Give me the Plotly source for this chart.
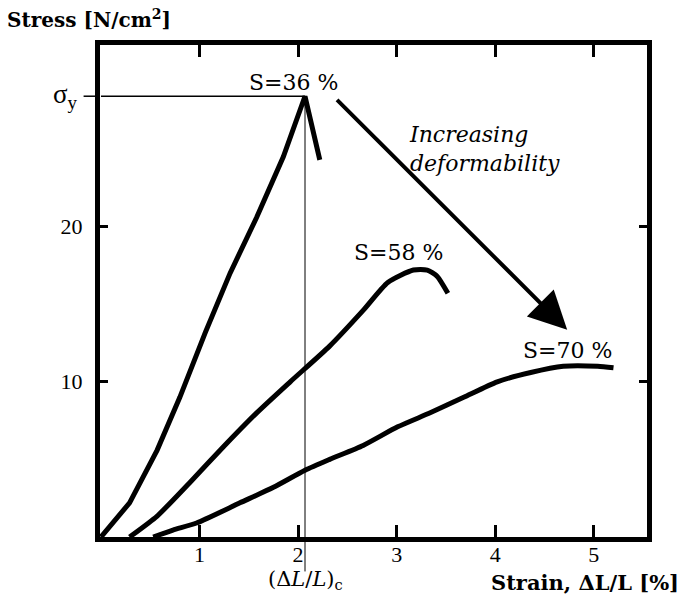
import plotly.graph_objects as go

# ---- data ----
s36_x = [0.0, 0.29, 0.57, 0.80, 1.06, 1.31, 1.58, 1.85, 2.07, 2.22]
s36_y = [0.0, 2.2, 5.6, 9.0, 13.2, 17.0, 20.6, 24.5, 28.4, 24.3]

s58_x = [0.29, 0.57, 0.90, 1.24, 1.58, 1.92, 2.32, 2.66, 2.91, 3.17, 3.31, 3.41, 3.52]
s58_y = [0.0, 1.35, 3.5, 5.8, 8.0, 10.0, 12.3, 14.6, 16.4, 17.2, 17.2, 16.8, 15.7]

s70_x = [0.53, 0.73, 0.97, 1.41, 1.75, 2.07, 2.32, 2.66, 3.01, 3.34, 3.68, 4.02, 4.36, 4.69, 5.04, 5.20]
s70_y = [0.0, 0.45, 0.9, 2.2, 3.2, 4.3, 5.0, 5.9, 7.1, 8.0, 9.0, 10.0, 10.6, 11.0, 11.0, 10.9]

sigma_y = 28.4          # yield stress
strain_c = 2.07         # critical strain (ΔL/L)c

x_ticks = [1, 2, 3, 4, 5]
y_ticks = [10, 20]

curve_labels = ["S=36 %", "S=58 %", "S=70 %"]
label_pos = [(1.95, 29.3), (3.02, 18.3), (4.73, 12.0)]

arrow_start = (2.38, 28.26)
arrow_end = (4.73, 13.35)

TICKFONT = "Liberation Serif"
FONT = "DejaVu Serif"
FS = 22

fig = go.Figure()
for xs, ys, shape in [(s36_x, s36_y, "linear"), (s58_x, s58_y, "spline"), (s70_x, s70_y, "spline")]:
    fig.add_trace(go.Scatter(x=xs, y=ys, mode="lines",
                             line=dict(color="black", width=5, shape=shape, smoothing=0.6),
                             showlegend=False, hoverinfo="skip"))

shapes = [
    dict(type="line", xref="x", yref="y", x0=0, x1=strain_c, y0=sigma_y, y1=sigma_y,
         line=dict(color="black", width=1.5)),
    dict(type="line", xref="x domain", yref="y", x0=-0.03, x1=0, y0=sigma_y, y1=sigma_y,
         line=dict(color="black", width=1.5)),
    dict(type="line", xref="x", yref="y", x0=strain_c, x1=strain_c, y0=0, y1=sigma_y,
         line=dict(color="black", width=1)),
    dict(type="line", xref="x", yref="y domain", x0=strain_c, x1=strain_c, y0=-0.07, y1=0,
         line=dict(color="black", width=1)),
]

annotations = []
for txt, (ax_, ay_) in zip(curve_labels, label_pos):
    annotations.append(dict(x=ax_, y=ay_, xref="x", yref="y", text=txt, showarrow=False,
                            font=dict(family=FONT, size=FS, color="black"),
                            xanchor="center", yanchor="middle"))
annotations += [
    dict(x=3.10, y=25.0, xref="x", yref="y", text="<i>Increasing<br>deformability</i>",
         showarrow=False, align="left", xanchor="left", yanchor="middle",
         font=dict(family=FONT, size=FS, color="black")),
    dict(x=arrow_end[0], y=arrow_end[1], ax=arrow_start[0], ay=arrow_start[1],
         xref="x", yref="y", axref="x", ayref="y", text="", showarrow=True,
         arrowhead=2, arrowsize=1.9, arrowwidth=4, arrowcolor="black", standoff=0),
    dict(x=-0.037, y=sigma_y, xref="paper", yref="y", text="σ<sub>y</sub>", showarrow=False,
         xanchor="right", yanchor="middle", font=dict(family=TICKFONT, size=FS + 5, color="black")),
    dict(x=strain_c, y=-0.087, xref="x", yref="paper", text="(Δ<i>L</i>/<i>L</i>)<sub>c</sub>",
         showarrow=False, xanchor="center", yanchor="middle",
         font=dict(family=FONT, size=21, color="black")),
    dict(x=1.062, y=-0.092, xref="paper", yref="paper", text="<b>Strain, ΔL/L [%]</b>",
         showarrow=False, xanchor="right", yanchor="middle",
         font=dict(family=FONT, size=21, color="black")),
    dict(x=-0.174, y=1.053, xref="paper", yref="paper", text="<b>Stress [N/cm<sup>2</sup>]</b>",
         showarrow=False, xanchor="left", yanchor="middle",
         font=dict(family=FONT, size=20, color="black")),
]

fig.update_layout(
    width=681, height=608,
    margin=dict(l=100, r=34, t=45, b=71),
    paper_bgcolor="white", plot_bgcolor="white",
    shapes=shapes, annotations=annotations,
    xaxis=dict(range=[-0.01, 5.54], tickvals=x_ticks, ticktext=[str(v) for v in x_ticks],
               ticks="inside", ticklen=12, tickwidth=2.5, tickcolor="black",
               showline=True, linewidth=5, linecolor="black", mirror="ticks",
               showgrid=False, zeroline=False, ticklabelstandoff=-6,
               tickfont=dict(family=TICKFONT, size=FS, color="black")),
    yaxis=dict(range=[0, 31.7], tickvals=y_ticks, ticktext=[str(v) for v in y_ticks],
               ticks="inside", ticklen=8, tickwidth=2.5, tickcolor="black",
               showline=True, linewidth=5, linecolor="black", mirror="ticks",
               showgrid=False, zeroline=False, ticklabelstandoff=8,
               tickfont=dict(family=TICKFONT, size=FS, color="black")),
)

fig.write_html("out.html", config={"displayModeBar": False},
               post_script="document.body.style.margin='0';")
